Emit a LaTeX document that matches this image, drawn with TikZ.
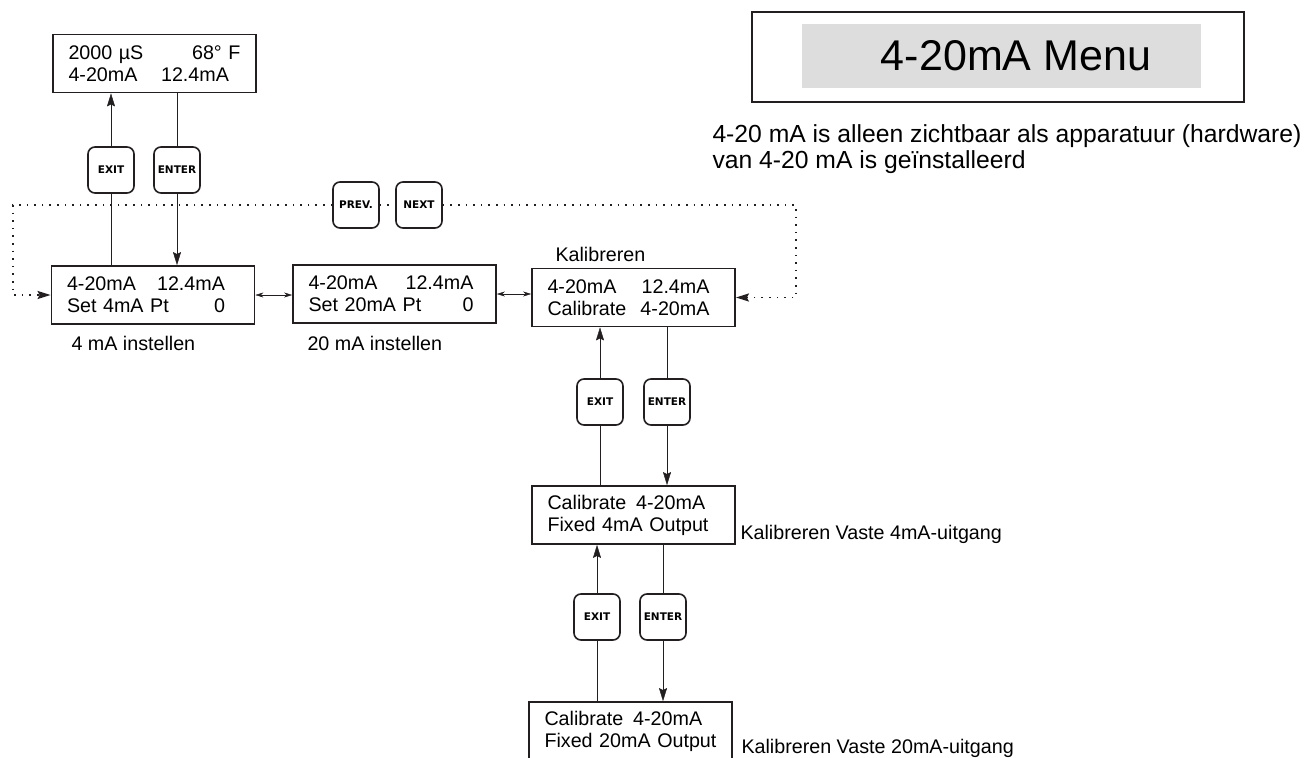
\documentclass[tikz,border=0pt]{standalone}
\usepackage{fontspec}
\setmainfont{Liberation Sans}
\newfontfamily\keyfont{DejaVu Sans}
\usetikzlibrary{arrows.meta, backgrounds}
\definecolor{cline}{HTML}{231F20}
\definecolor{cbar}{HTML}{DDDDDD}
\tikzset{
  every picture/.style={line width=1pt},
  lcd/.style={draw=cline, line width=1.8pt, fill=white, minimum width=203pt, minimum height=58pt, text width=172pt, inner xsep=0pt, align=left, font=\fontsize{19.7}{22}\selectfont},
  button/.style={draw=cline, line width=1.6pt, fill=white, rounded corners=7pt, minimum width=46pt, minimum height=46pt, inner sep=0pt, font=\keyfont\bfseries\fontsize{10.5}{12}\selectfont},
  arrow/.style={-{Stealth[length=13pt, width=8pt, inset=2pt]}, draw=cline},
  twoway/.style={{Stealth[length=8pt, width=5pt]}-{Stealth[length=8pt, width=5pt]}, draw=cline},
  dotline/.style={draw=cline, line width=1.6pt, dash pattern=on 1.6pt off 6pt},
  note/.style={anchor=base west, inner sep=0pt, align=left, font=\fontsize{19.7}{22}\selectfont},
}

\begin{document}
\begin{tikzpicture}[x=1pt, y=-1pt]
  \useasboundingbox (0,0) rectangle (1305,757);
  \node[draw=cline, line width=1.8pt, minimum width=492pt, minimum height=90pt] (title) at (998,57) {};
  \node[fill=cbar, minimum width=399pt, minimum height=64pt, font=\fontsize{43}{45}\selectfont] (menu) at (1001.5,56) {\hspace*{29pt}4-20mA Menu};
  \node[note, font=\fontsize{24.7}{26}\selectfont] (hint) at (712,168) {4-20 mA is alleen zichtbaar als apparatuur (hardware)\\van 4-20 mA is geïnstalleerd};

  \node[lcd] (disp) at (154.5,63.5) {2000 µS\hfill 68° F\\4-20mA\hspace{1.2em}12.4mA};
  \node[lcd] (set4) at (153,295) {4-20mA\hfill 12.4mA\rule{14pt}{0pt}\\Set 4mA Pt\hfill 0\rule{14pt}{0pt}};
  \node[lcd] (set20) at (394.5,294) {4-20mA\hfill 12.4mA\rule{7pt}{0pt}\\Set 20mA Pt\hfill 0\rule{7pt}{0pt}};
  \node[lcd] (cal) at (633.5,297.5) {4-20mA\hfill 12.4mA\rule{10pt}{0pt}\\Calibrate\hfill 4-20mA\rule{10pt}{0pt}};
  \node[lcd] (fix4) at (633.5,515) {Calibrate\hspace{0.5em}4-20mA\\Fixed 4mA Output};
  \node[lcd] (fix20) at (630.5,731) {Calibrate\hspace{0.5em}4-20mA\\Fixed 20mA Output};

  \node[note] (lab4) at (71,350) {4 mA instellen};
  \node[note] (lab20) at (307,350) {20 mA instellen};
  \node[note] (labcal) at (555,261) {Kalibreren};
  \node[note] (labfix4) at (740,539) {Kalibreren Vaste 4mA-uitgang};
  \node[note] (labfix20) at (741,753) {Kalibreren Vaste 20mA-uitgang};

  \node[button] (exit1) at (111,170) {EXIT};
  \node[button] (enter1) at (177,170) {ENTER};
  \node[button] (prev) at (356,205) {PREV.};
  \node[button] (next) at (419,205) {NEXT};
  \node[button] (exit2) at (600,402) {EXIT};
  \node[button] (enter2) at (667,402) {ENTER};
  \node[button] (exit3) at (597,617) {EXIT};
  \node[button] (enter3) at (663,617) {ENTER};

  \coordinate (dotl) at (13,205);
  \coordinate (dotr) at (796,205);

  \begin{scope}[on background layer]
    \draw[arrow] (exit1 |- set4.north) -- (exit1 |- disp.south);
    \draw[arrow] (enter1 |- disp.south) -- (enter1 |- set4.north);
    \draw[dotline, arrow] (prev.west) -- (dotl) |- (set4.west);
    \draw[dotline] (prev.east) -- (next.west);
    \draw[dotline, arrow] (next.east) -- (dotr) |- (cal.east);
    \draw[twoway] (set4.east) -- (set4.east -| set20.west);
    \draw[twoway] (set20.east) -- (set20.east -| cal.west);
    \draw[arrow] (exit2 |- fix4.north) -- (exit2 |- cal.south);
    \draw[arrow] (enter2 |- cal.south) -- (enter2 |- fix4.north);
    \draw[arrow] (exit3 |- fix20.north) -- (exit3 |- fix4.south);
    \draw[arrow] (enter3 |- fix4.south) -- (enter3 |- fix20.north);
  \end{scope}
\end{tikzpicture}
\end{document}
